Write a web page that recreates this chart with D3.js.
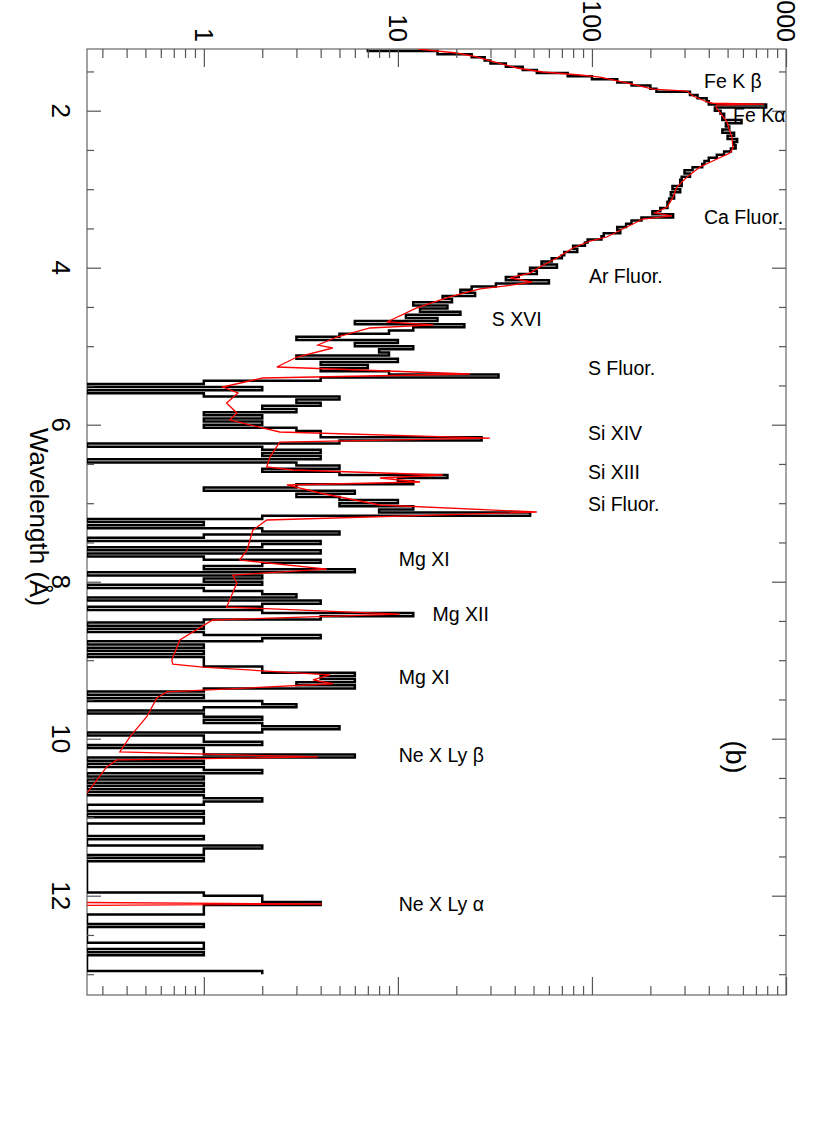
<!DOCTYPE html>
<html>
<head>
<meta charset="utf-8">
<script src="https://cdn.jsdelivr.net/npm/d3@7"></script>
<style>
  body { margin: 0; background: #fff; }
  svg { display: block; }
  text { font-family: "Liberation Sans", Arial, Helvetica, sans-serif; fill: #000; }
</style>
</head>
<body>
<script>
const width = 830;
const height = 1127;

// plot box (the figure is turned 90 degrees: wavelength runs down, counts run right)
const box = { left: 87, right: 786, top: 49, bottom: 995 };

const lamDomain = [1.214, 13.265];
const cntDomain = [0.25, 1000];

// observed counts per bin, bins start at 1.20 A and are 0.04 A wide
const binStart = 1.20;
const binWidth = 0.04;
const histFe = [
  7, 16, 24, 28, 30, 36, 44, 52, 75, 100,
  135, 160, 200, 215, 320, 350, 390, 400, 790, 430,
  460, 480, 470, 590, 490, 510, 470, 540, 500, 560,
  540, 550, 520, 480, 440, 400, 380, 370, 330, 300,
  320, 290, 285, 290, 260, 285, 255, 265, 250, 245
];
const histCa = [
  245, 225, 205, 262, 180, 160, 150, 135, 140, 115,
  112, 95, 92, 80, 84, 72, 70, 62, 55, 66,
  48, 52, 42, 36, 60, 32, 24, 21, 25, 17,
  19, 12, 18, 13, 21, 11, 16, 6, 22, 12,
  9, 5, 3, 10, 6, 12, 8, 9, 3, 10
];
const histSi = [
  4, 7, 4, 9, 33, 4, 1, 0, 2, 0,
  1, 5, 3, 4, 2, 3, 1, 2, 1, 2,
  1, 3, 4, 4, 27, 5, 0, 2, 4, 2,
  4, 0, 3, 5, 2, 5, 18, 10, 12, 3,
  1, 6, 3, 5, 10, 5, 12, 8, 48, 2
];
const histMg = [
  0, 1, 0, 2, 5, 1, 0, 4, 2, 0,
  4, 0, 1, 4, 2, 1, 6, 0, 2, 1,
  2, 0, 1, 2, 3, 0, 4, 2, 0, 2,
  12, 4, 1, 0, 1, 0, 1, 4, 2, 0,
  1, 0, 1, 0, 1, 1, 1, 2, 2, 6
];
const histNe = [
  4, 6, 3, 6, 1, 0, 1, 0, 2, 3,
  1, 0, 1, 2, 1, 2, 5, 2, 0, 1,
  1, 2, 0, 1, 1, 6, 0, 1, 0, 1,
  2, 0, 1, 0, 1, 0, 1, 0, 1, 2,
  1, 0, 0, 1, 0, 1, 1, 0, 0, 0
];
const histTail = [
  0, 1, 0, 0, 2, 1, 1, 0, 1, 0,
  0, 0, 0, 0, 0, 0, 0, 0, 0, 1,
  2, 2, 4, 1, 1, 1, 0, 0, 0, 1,
  0, 0, 0, 0, 0, 1, 1, 0, 1, 0,
  0, 0, 0, 0, 2
];

// model spectrum (red), wavelength in A and counts
const modelLam = [
  1.214, 1.265, 1.315, 1.354, 1.456, 1.507, 1.545, 1.571, 1.647, 1.724,
  1.750, 1.813, 1.889, 1.905, 1.915, 1.930, 1.953, 2.145, 2.348, 2.475,
  2.539, 2.615, 2.717, 2.845, 2.972, 3.099, 3.227, 3.303, 3.341, 3.380,
  3.482, 3.609, 3.660, 3.749, 3.876, 3.991, 4.068, 4.131, 4.182, 4.220,
  4.271, 4.373, 4.513, 4.692, 4.729, 4.768, 4.883, 4.985, 5.023, 5.138,
  5.265, 5.354, 5.405, 5.520, 5.596, 5.724, 5.851, 5.940, 6.093, 6.170,
  6.221, 6.412, 6.539, 6.577, 6.641, 6.679, 6.730, 6.768, 6.870, 7.023,
  7.112, 7.214, 7.341, 7.596, 7.724, 7.839, 7.915, 8.017, 8.323, 8.412,
  8.488, 8.743, 8.998, 9.050, 9.089, 9.187, 9.250, 9.300, 9.404, 9.480,
  9.720, 9.977, 10.168, 10.232, 10.270, 10.360, 10.680, 11.000, 11.600, 12.080,
  12.106, 12.130, 12.400
];
const modelCts = [
  12.7, 20.1, 25.5, 28.7, 41.1, 55.9, 86.7, 110, 151, 206,
  309, 332, 392, 420, 770, 440, 436, 497, 527, 533,
  514, 441, 360, 309, 274, 262, 244, 211, 258, 183,
  151, 119, 97.7, 79.8, 66.0, 53.9, 47.9, 37.8, 49.1, 39.1,
  26.5, 18.5, 12.5, 8.78, 15.2, 7.17, 4.85, 3.87, 4.62, 3.02,
  2.38, 23.5, 2.01, 1.25, 1.50, 1.31, 1.48, 1.36, 2.46, 29.8,
  2.46, 2.19, 2.11, 2.88, 17.1, 8.08, 13.0, 2.68, 3.96, 8.08,
  52.0, 2.11, 1.79, 1.67, 1.53, 4.31, 1.41, 1.48, 1.31, 10.2,
  1.11, 0.752, 0.684, 0.692, 0.99, 4.46, 3.65, 4.62, 0.645, 0.573,
  0.508, 0.416, 0.369, 3.87, 0.356, 0.316, 0.252, 0.18, 0.12, 0.1,
  4.06, 0.1, 0.08
];

// line identifications
const lineNames = [
  "Fe K \u03b2", "Fe K\u03b1", "Ca Fluor.", "Ar Fluor.", "S XVI", "S Fluor.",
  "Si XIV", "Si XIII", "Si Fluor.", "Mg XI", "Mg XII", "Mg XI",
  "Ne X Ly \u03b2", "Ne X Ly \u03b1"
];
const nameLam = [1.711, 2.144, 3.443, 4.195, 4.743, 5.367, 6.195, 6.692, 7.099, 7.80, 8.50, 9.30, 10.296, 12.194];
const nameCts = [378, 533, 378, 96.5, 30.5, 95.3, 95.3, 95.3, 95.3, 10.1, 15.1, 10.1, 10.1, 10.1];

// tick labels
const countMajor = [1, 10, 100, 1000];
const lamMajor = [2, 4, 6, 8, 10, 12];

const countMinor = [0.3, 0.4, 0.5, 0.6, 0.7, 0.8, 0.9]
  .concat(d3.range(2, 10), d3.range(20, 100, 10), d3.range(200, 1000, 100));
const lamMinor = d3.range(1.5, 13.26, 0.5).filter(v => v % 2 !== 0);

const x = d3.scaleLog().domain(cntDomain).range([box.left, box.right]);
const y = d3.scaleLinear().domain(lamDomain).range([box.top, box.bottom]);

const svg = d3.select('body')
  .append('svg')
  .attr('width', width)
  .attr('height', height);

svg.append('defs').append('clipPath')
  .attr('id', 'plotclip')
  .append('rect')
  .attr('x', box.left).attr('y', box.top)
  .attr('width', box.right - box.left).attr('height', box.bottom - box.top);

svg.append('rect')
  .attr('x', box.left).attr('y', box.top)
  .attr('width', box.right - box.left).attr('height', box.bottom - box.top)
  .attr('fill', 'none')
  .attr('stroke', '#666')
  .attr('stroke-width', 1.2);

// histogram: zero counts sit on the left edge of the box
const counts = [histFe, histCa, histSi, histMg, histNe, histTail].flat();
const steps = counts.map((c, i) => ({ lam: binStart + i * binWidth, c: Math.max(c, cntDomain[0]) }));
steps.push({ lam: binStart + counts.length * binWidth, c: steps[steps.length - 1].c });

const stepLine = d3.line()
  .x(d => x(d.c))
  .y(d => y(d.lam))
  .curve(d3.curveStepBefore);

const plot = svg.append('g').attr('clip-path', 'url(#plotclip)');

plot.append('path')
  .datum(steps)
  .attr('d', stepLine)
  .attr('fill', 'none')
  .attr('stroke', '#000')
  .attr('stroke-width', 2.5);

const model = modelLam.map((lam, i) => ({ lam: lam, c: modelCts[i] }));
const modelLine = d3.line()
  .x(d => x(d.c))
  .y(d => y(d.lam));

plot.append('path')
  .datum(model)
  .attr('d', modelLine)
  .attr('fill', 'none')
  .attr('stroke', '#ff0000')
  .attr('stroke-width', 1.3);

// ticks on all four sides, pointing inwards
function ticks(axis, tr) {
  svg.append('g')
    .attr('transform', tr)
    .call(axis)
    .call(g => g.select('.domain').remove())
    .selectAll('line')
    .attr('stroke', '#555')
    .attr('stroke-width', 1.2);
}
ticks(d3.axisTop(x).tickValues(countMinor).tickSize(-9).tickFormat(''), `translate(0,${box.top})`);
ticks(d3.axisTop(x).tickValues(countMajor).tickSize(-18).tickFormat(''), `translate(0,${box.top})`);
ticks(d3.axisBottom(x).tickValues(countMinor).tickSize(-9).tickFormat(''), `translate(0,${box.bottom})`);
ticks(d3.axisBottom(x).tickValues(countMajor).tickSize(-18).tickFormat(''), `translate(0,${box.bottom})`);
ticks(d3.axisLeft(y).tickValues(lamMinor).tickSize(-7).tickFormat(''), `translate(${box.left},0)`);
ticks(d3.axisLeft(y).tickValues(lamMajor).tickSize(-14).tickFormat(''), `translate(${box.left},0)`);
ticks(d3.axisRight(y).tickValues(lamMinor).tickSize(-7).tickFormat(''), `translate(${box.right},0)`);
ticks(d3.axisRight(y).tickValues(lamMajor).tickSize(-14).tickFormat(''), `translate(${box.right},0)`);

// rotated axis labels (the top one for 1000 runs off the page, as in the original)
svg.append('g').selectAll('text')
  .data(countMajor)
  .join('text')
  .attr('transform', d => `translate(${x(d)},${box.top - 7}) rotate(90)`)
  .attr('text-anchor', 'end')
  .attr('dy', '0.36em')
  .style('font-size', '25px')
  .text(d => d);

svg.append('g').selectAll('text')
  .data(lamMajor)
  .join('text')
  .attr('transform', d => `translate(${box.left - 35},${y(d)}) rotate(90)`)
  .attr('text-anchor', 'middle')
  .style('font-size', '26px')
  .text(d => d);

svg.append('text')
  .attr('transform', `translate(30,517) rotate(90)`)
  .attr('text-anchor', 'middle')
  .style('font-size', '26px')
  .text('Wavelength (\u00c5)');

svg.append('text')
  .attr('transform', `translate(726,757) rotate(90)`)
  .attr('text-anchor', 'middle')
  .style('font-size', '27px')
  .text('(b)');

// line names stay upright
svg.append('g').selectAll('text')
  .data(lineNames)
  .join('text')
  .attr('x', (d, i) => x(nameCts[i]))
  .attr('y', (d, i) => y(nameLam[i]))
  .style('font-size', '19.5px')
  .text(d => d);
</script>
</body>
</html>
